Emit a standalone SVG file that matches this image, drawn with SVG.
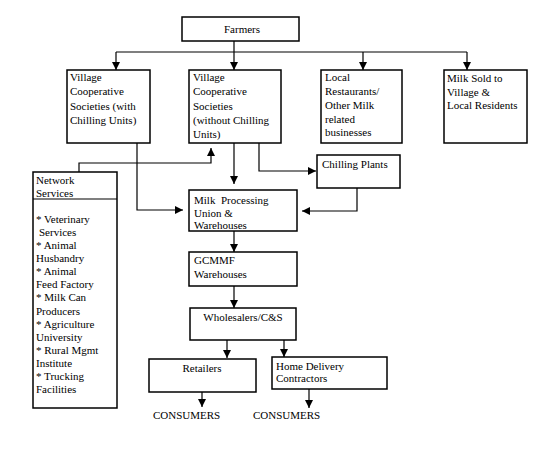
<svg xmlns="http://www.w3.org/2000/svg" width="552" height="449" viewBox="0 0 552 449">
<style>
.box{fill:#fff;stroke:#000;stroke-width:1.5}
.t{font-family:"Liberation Serif","Times New Roman",serif;font-size:11px;fill:#000;white-space:pre}
.c{text-anchor:middle}
.ln{fill:none;stroke:#000;stroke-width:1.2}
</style>
<defs>
<marker id="ah" viewBox="0 0 10 10" refX="10" refY="5" markerWidth="8" markerHeight="8" markerUnits="userSpaceOnUse" orient="auto">
<path d="M0,0 L10,5 L0,10 z" fill="#000"/>
</marker>
</defs>
<rect width="552" height="449" fill="#fff"/>
<g id="connectors">
<line class="ln" x1="116" y1="52" x2="467" y2="52"/>
<line class="ln" x1="234" y1="41" x2="234" y2="70" marker-end="url(#ah)"/>
<line class="ln" x1="116" y1="52" x2="116" y2="70" marker-end="url(#ah)"/>
<line class="ln" x1="363" y1="52" x2="363" y2="70" marker-end="url(#ah)"/>
<line class="ln" x1="467" y1="52" x2="467" y2="70" marker-end="url(#ah)"/>
<polyline class="ln" points="79,172 79,163 211,163 211,148" marker-end="url(#ah)"/>
<polyline class="ln" points="137,143 137,210 183,210" marker-end="url(#ah)"/>
<line class="ln" x1="234" y1="143" x2="234" y2="184" marker-end="url(#ah)"/>
<polyline class="ln" points="259,143 259,171 316,171" marker-end="url(#ah)"/>
<polyline class="ln" points="357,188 357,211 302,211" marker-end="url(#ah)"/>
<line class="ln" x1="234" y1="231" x2="234" y2="252" marker-end="url(#ah)"/>
<line class="ln" x1="234" y1="286" x2="234" y2="308" marker-end="url(#ah)"/>
<line class="ln" x1="227" y1="340" x2="227" y2="358" marker-end="url(#ah)"/>
<line class="ln" x1="284" y1="340" x2="284" y2="357" marker-end="url(#ah)"/>
<line class="ln" x1="202" y1="392" x2="202" y2="407" marker-end="url(#ah)"/>
<line class="ln" x1="309" y1="389" x2="309" y2="408" marker-end="url(#ah)"/>
</g>
<g id="farmers">
<rect class="box" x="182" y="17" width="117" height="24"/>
<text class="t c" x="242" y="33">Farmers</text>
</g>
<g id="vcs-with">
<rect class="box" x="67" y="70" width="83" height="73"/>
<text class="t" x="70" y="80.5">Village</text>
<text class="t" x="70" y="95">Cooperative</text>
<text class="t" x="70" y="109.5">Societies (with</text>
<text class="t" x="70" y="124">Chilling Units)</text>
</g>
<g id="vcs-without">
<rect class="box" x="189" y="70" width="92" height="73"/>
<text class="t" x="193" y="80.5">Village</text>
<text class="t" x="193" y="95">Cooperative</text>
<text class="t" x="193" y="109.5">Societies</text>
<text class="t" x="193" y="124">(without Chilling</text>
<text class="t" x="193" y="138">Units)</text>
</g>
<g id="local">
<rect class="box" x="321" y="70" width="81" height="73"/>
<text class="t" x="325" y="80.5">Local</text>
<text class="t" x="325" y="95">Restaurants/</text>
<text class="t" x="325" y="109">Other Milk</text>
<text class="t" x="325" y="122.5">related</text>
<text class="t" x="325" y="136">businesses</text>
</g>
<g id="milk-sold">
<rect class="box" x="444" y="70" width="83" height="73"/>
<text class="t" x="447" y="81.5">Milk Sold to</text>
<text class="t" x="447" y="95.5">Village &amp;</text>
<text class="t" x="447" y="109">Local Residents</text>
</g>
<g id="network">
<rect class="box" x="33" y="172" width="84" height="236"/>
<line class="ln" x1="33" y1="199" x2="117" y2="199"/>
<text class="t" x="36" y="184">Network</text>
<text class="t" x="36" y="197">Services</text>
<text class="t" x="36" y="222.5">* Veterinary</text>
<text class="t" x="39" y="235.5">Services</text>
<text class="t" x="36" y="249">* Animal</text>
<text class="t" x="36" y="262">Husbandry</text>
<text class="t" x="36" y="275">* Animal</text>
<text class="t" x="36" y="288">Feed Factory</text>
<text class="t" x="36" y="301">* Milk Can</text>
<text class="t" x="36" y="314.5">Producers</text>
<text class="t" x="36" y="327.5">* Agriculture</text>
<text class="t" x="36" y="340.5">University</text>
<text class="t" x="36" y="353.5">* Rural Mgmt</text>
<text class="t" x="36" y="366.5">Institute</text>
<text class="t" x="36" y="379.5">* Trucking</text>
<text class="t" x="36" y="393">Facilities</text>
</g>
<g id="chilling">
<rect class="box" x="317" y="155" width="83" height="33"/>
<text class="t" x="322" y="168">Chilling Plants</text>
</g>
<g id="mpu">
<rect class="box" x="189" y="190" width="108" height="41"/>
<text class="t" x="194" y="204">Milk  Processing</text>
<text class="t" x="194" y="216.5">Union &amp;</text>
<text class="t" x="194" y="229">Warehouses</text>
</g>
<g id="gcmmf">
<rect class="box" x="189" y="252" width="108" height="34"/>
<text class="t" x="194" y="264">GCMMF</text>
<text class="t" x="194" y="278">Warehouses</text>
</g>
<g id="wholesalers">
<rect class="box" x="190" y="308" width="106" height="32"/>
<text class="t c" x="243" y="321">Wholesalers/C&amp;S</text>
</g>
<g id="retailers">
<rect class="box" x="149" y="359" width="107" height="33"/>
<text class="t c" x="202" y="371.5">Retailers</text>
</g>
<g id="home-delivery">
<rect class="box" x="272" y="357" width="115" height="32"/>
<text class="t" x="276" y="370">Home Delivery</text>
<text class="t" x="276" y="382">Contractors</text>
</g>
<g id="consumers">
<text class="t" x="153" y="419">CONSUMERS</text>
<text class="t" x="253" y="419">CONSUMERS</text>
</g>
</svg>
